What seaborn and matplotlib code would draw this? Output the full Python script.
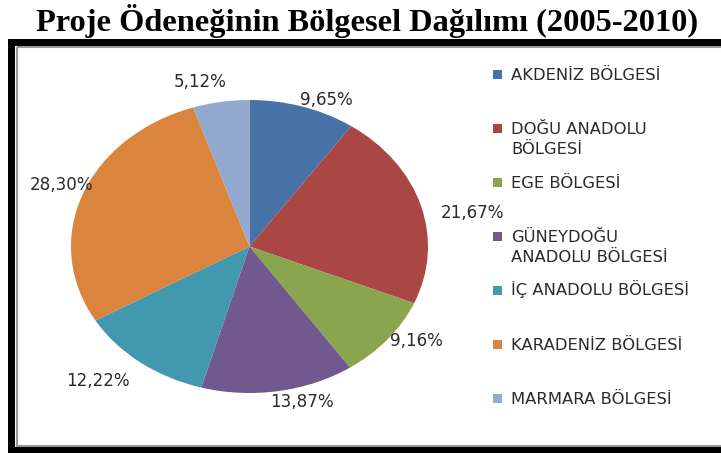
import numpy as np
import matplotlib
matplotlib.use("Agg")
import matplotlib.pyplot as plt
from matplotlib.patches import Rectangle
import seaborn as sns

# Regional shares of project funding, 2005-2010 (percent)
regions = ["AKDENİZ BÖLGESİ", "DOĞU ANADOLU\nBÖLGESİ", "EGE BÖLGESİ",
           "GÜNEYDOĞU\nANADOLU BÖLGESİ", "İÇ ANADOLU BÖLGESİ",
           "KARADENİZ BÖLGESİ", "MARMARA BÖLGESİ"]
shares = [9.65, 21.67, 9.16, 13.87, 12.22, 28.30, 5.12]
title = "Proje Ödeneğinin Bölgesel Dağılımı (2005-2010)"

sns.set_theme(style="white")
plt.rcParams["font.family"] = ["DejaVu Sans"]

palette = sns.color_palette(["#4672a8", "#aa4644", "#89a54e", "#71588f",
                             "#4198af", "#db843d", "#93a9cf"])
text_color = "#2b2b2b"
W, H = 721, 453

fig = plt.figure(figsize=(W / 100, H / 100), dpi=100)
fig.patch.set_facecolor("white")

# Full-figure overlay in pixel units for the frame, title and legend
over = fig.add_axes([0, 0, 1, 1])
over.set_xlim(0, W)
over.set_ylim(H, 0)
over.axis("off")

# Chart frame: thick black border with a thin grey inner line
for x, y, w, h in [(8, 39, W - 8, 7), (8, 39, 7, H - 39), (8, 447, W - 8, 6)]:
    over.add_patch(Rectangle((x, y), w, h, facecolor="black", edgecolor="none"))
over.add_patch(Rectangle((16.5, 46.5), W, 399, facecolor="none",
                         edgecolor="#9a9a9a", linewidth=1.5))

over.text(367, 30.5, title, ha="center", va="baseline", fontsize=23.3,
          fontweight="bold", family=["Liberation Serif", "DejaVu Serif"],
          color="black")

# Legend: one entry every 54 px, marker aligned with the first line
for i, (name, col) in enumerate(zip(regions, palette)):
    y0 = 74 + 54 * i
    over.add_patch(Rectangle((492.5, y0 - 4.5), 9, 9, facecolor=col, edgecolor="none"))
    for j, line in enumerate(name.split("\n")):
        over.text(511, y0 + 5.5 + 21 * j, line, ha="left", va="baseline",
                  fontsize=11.8, color=text_color)

# Elliptical pie
cx, cy, rx, ry = 249.5, 246.5, 178.5, 146.5
ax = fig.add_axes([(cx - rx) / W, 1 - (cy + ry) / H, 2 * rx / W, 2 * ry / H])
wedges, _ = ax.pie(shares, colors=palette, startangle=90, counterclock=False,
                   radius=1, center=(0, 0), wedgeprops=dict(linewidth=0))
ax.set_aspect("auto")
ax.set_xlim(-1, 1)
ax.set_ylim(-1, 1)
ax.axis("off")

# Value labels outside each slice, with small nudges in pixels
nudges = [(-5, 0), (11, -10), (-5, 3), (-10, -4), (-5, -13), (19, 7), (7, 13)]
for w, v, (dx, dy) in zip(wedges, shares, nudges):
    mid = np.deg2rad((w.theta1 + w.theta2) / 2)
    x, y = 1.05 * np.cos(mid), 1.05 * np.sin(mid)
    label = f"{v:.2f}".replace(".", ",") + "%"
    ax.annotate(label, (x, y), xytext=(dx, dy), textcoords="offset pixels",
                ha="left" if x > 0 else "right", va="center",
                fontsize=12.1, color=text_color, annotation_clip=False)

fig.savefig("out.png", dpi=100)
